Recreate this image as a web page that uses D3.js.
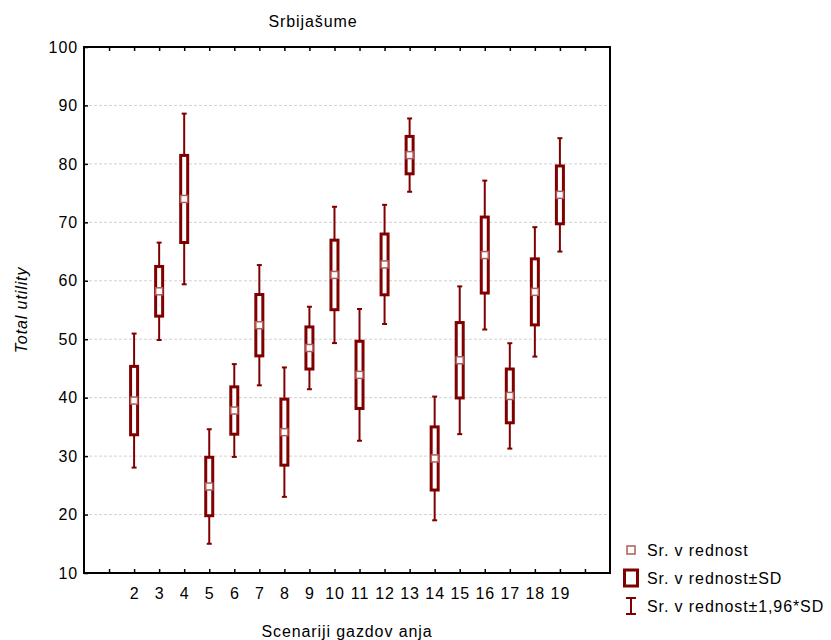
<!DOCTYPE html>
<html>
<head>
<meta charset="utf-8">
<script src="https://cdn.jsdelivr.net/npm/d3@7"></script>
<style>
  body { margin: 0; background: #fff; }
  svg { display: block; font-family: "Liberation Sans", Arial, sans-serif; }
  text { letter-spacing: 0.9px; }
</style>
</head>
<body>
<svg id="chart" width="831" height="640"></svg>
<script>
// ---- data ----
const title = "Srbijašume";
const xTitle = "Scenariji gazdov anja";
const yTitle = "Total utility";
const categories = [2, 3, 4, 5, 6, 7, 8, 9, 10, 11, 12, 13, 14, 15, 16, 17, 18, 19];
const means = [39.5, 58.2, 74.0, 24.8, 37.8, 52.4, 34.1, 48.5, 61.0, 43.9, 62.8, 81.5, 29.6, 46.4, 64.4, 40.3, 58.1, 74.7];
const sds   = [5.85, 4.25, 7.45, 5.0, 4.05, 5.25, 5.65, 3.6, 5.95, 5.75, 5.2, 3.2, 5.4, 6.45, 6.5, 4.6, 5.65, 4.95];
const ciFactor = 1.96;
const yTicks = [10, 20, 30, 40, 50, 60, 70, 80, 90, 100];
const xTickPositions = [1, 2, 3, 4, 5, 6, 7, 8, 9, 10, 11, 12, 13, 14, 15, 16, 17, 18, 19, 20];
const legendLabels = ["Sr. v rednost", "Sr. v rednost±SD", "Sr. v rednost±1,96*SD"];

const data = categories.map((c, i) => ({ cat: c, mean: means[i], sd: sds[i] }));

// ---- layout ----
const L = 84, R = 610, T = 47, B = 573;
const FS = "16px";
const svg = d3.select("#chart");
const x = d3.scaleLinear().domain([0, 21]).range([L, R]);
const y = d3.scaleLinear().domain([10, 100]).range([B, T]);

const dark = "#800000";
const light = "#b35a5a";

// gridlines
svg.append("g").selectAll("line")
  .data(yTicks.filter(v => v > 10 && v < 100))
  .join("line")
  .attr("x1", L).attr("x2", R)
  .attr("y1", d => y(d)).attr("y2", d => y(d))
  .attr("stroke", "#d2d2d2").attr("stroke-width", 1)
  .attr("stroke-dasharray", "3,2");

// axes
const fmtX = d => categories.includes(d) ? String(d) : "";
const xAxis = svg.append("g").attr("transform", `translate(0,${B})`)
  .call(d3.axisBottom(x).tickValues(xTickPositions).tickFormat(fmtX).tickSize(-4).tickSizeOuter(0).tickPadding(15));
const xTop = svg.append("g").attr("transform", `translate(0,${T})`)
  .call(d3.axisTop(x).tickValues(xTickPositions).tickFormat("").tickSize(-4).tickSizeOuter(0));
const yAxis = svg.append("g").attr("transform", `translate(${L},0)`)
  .call(d3.axisLeft(y).tickValues(yTicks).tickSize(-4).tickSizeOuter(0).tickPadding(6));
[xAxis, xTop, yAxis].forEach(g => {
  g.select(".domain").remove();
  g.selectAll(".tick line").attr("stroke", "#000").attr("stroke-width", 1.5);
  g.selectAll("text").attr("fill", "#000").style("font-size", FS)
    .style("font-family", '"Liberation Sans", Arial, sans-serif');
});

// frame
svg.append("rect").attr("x", L).attr("y", T).attr("width", R - L).attr("height", B - T)
  .attr("fill", "none").attr("stroke", "#000").attr("stroke-width", 2);

// boxes
const bw = 7, capW = 5;
const g = svg.append("g");
const item = g.selectAll("g.item").data(data).join("g").attr("class", "item");
// whiskers
item.append("line")
  .attr("x1", d => x(d.cat)).attr("x2", d => x(d.cat))
  .attr("y1", d => y(d.mean + ciFactor * d.sd)).attr("y2", d => y(d.mean - ciFactor * d.sd))
  .attr("stroke", dark).attr("stroke-width", 2);
item.append("line")
  .attr("x1", d => x(d.cat) - capW / 2).attr("x2", d => x(d.cat) + capW / 2)
  .attr("y1", d => y(d.mean + ciFactor * d.sd)).attr("y2", d => y(d.mean + ciFactor * d.sd))
  .attr("stroke", dark).attr("stroke-width", 2);
item.append("line")
  .attr("x1", d => x(d.cat) - capW / 2).attr("x2", d => x(d.cat) + capW / 2)
  .attr("y1", d => y(d.mean - ciFactor * d.sd)).attr("y2", d => y(d.mean - ciFactor * d.sd))
  .attr("stroke", dark).attr("stroke-width", 2);
// SD box
item.append("rect")
  .attr("x", d => x(d.cat) - bw / 2).attr("width", bw)
  .attr("y", d => y(d.mean + d.sd)).attr("height", d => y(d.mean - d.sd) - y(d.mean + d.sd))
  .attr("fill", "#fff").attr("stroke", dark).attr("stroke-width", 3);
// mean marker
item.append("rect")
  .attr("x", d => x(d.cat) - bw / 2).attr("width", bw)
  .attr("y", d => y(d.mean) - 3.5).attr("height", 7)
  .attr("fill", "#fff").attr("stroke", light).attr("stroke-width", 1.5);

// titles
svg.append("text").attr("x", 313).attr("y", 27).attr("text-anchor", "middle")
  .style("font-size", FS).text(title);
svg.append("text").attr("x", (L + R) / 2).attr("y", 637).attr("text-anchor", "middle")
  .style("font-size", FS).text(xTitle);
svg.append("text").attr("transform", `translate(27,${(T + B) / 2}) rotate(-90)`)
  .attr("text-anchor", "middle").style("font-size", FS).style("font-style", "italic").text(yTitle);

// legend
const lg = svg.append("g");
const rows = [550, 578, 606];
const ix = 631, tx = 647;
lg.append("rect").attr("x", ix - 4).attr("y", rows[0] - 4).attr("width", 8).attr("height", 8)
  .attr("fill", "#fff").attr("stroke", light).attr("stroke-width", 1.5);
lg.append("rect").attr("x", ix - 6.5).attr("y", rows[1] - 8).attr("width", 13).attr("height", 16)
  .attr("fill", "#fff").attr("stroke", dark).attr("stroke-width", 3);
lg.append("line").attr("x1", ix).attr("x2", ix).attr("y1", rows[2] - 8).attr("y2", rows[2] + 8)
  .attr("stroke", dark).attr("stroke-width", 2);
lg.append("line").attr("x1", ix - 5).attr("x2", ix + 5).attr("y1", rows[2] - 8).attr("y2", rows[2] - 8)
  .attr("stroke", dark).attr("stroke-width", 2);
lg.append("line").attr("x1", ix - 5).attr("x2", ix + 5).attr("y1", rows[2] + 8).attr("y2", rows[2] + 8)
  .attr("stroke", dark).attr("stroke-width", 2);
lg.selectAll("text").data(legendLabels).join("text")
  .attr("x", tx).attr("y", (d, i) => rows[i]).attr("dy", "0.35em")
  .style("font-size", FS).text(d => d);
</script>
</body>
</html>
